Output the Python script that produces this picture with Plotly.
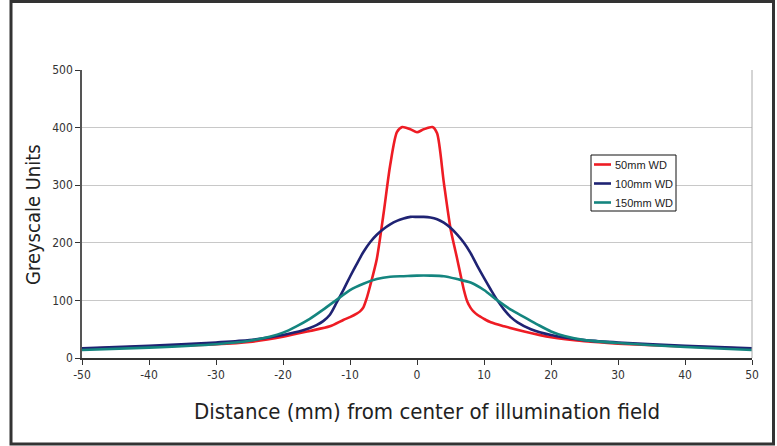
import plotly.graph_objects as go

# ---- data ----
# 50mm working distance
x_50mm = [-50, -40, -30, -25, -20, -16, -13, -11, -10, -9, -8.5, -8, -7.5, -7, -6, -5, -4, -3, -2.2,
          -1, 0, 1, 2.3, 3, 4, 5, 6, 7, 7.5, 8, 8.5, 9, 10, 11, 13, 16, 20, 25, 30, 40, 50]
wd_50mm = [16, 20, 24, 28, 37, 47, 55, 66, 71, 77, 81, 88, 104, 125, 172, 250, 335, 392, 401,
           397, 392, 397, 401, 390, 305, 225, 172, 118, 98, 87, 80, 75, 68, 62, 55, 46, 36, 29, 25, 20, 16]

# 100mm working distance
x_100mm = [-50, -40, -30, -25, -20, -17, -16, -15, -14, -13, -12, -11, -10, -9, -8, -7, -6, -5, -4,
           -3, -2, -1, 0, 1, 2, 3, 4, 5, 6, 7, 8, 9, 10, 11, 12, 13, 14, 15, 17, 20, 25, 30, 40, 50]
wd_100mm = [17, 21, 27, 31, 40, 48, 52, 57, 64, 75, 96, 118, 141, 163, 184, 201, 214, 224, 232,
            238, 242, 245, 245, 245, 244, 241, 235, 226, 214, 200, 182, 160, 139, 119, 100, 84, 71, 62, 50,
            40, 31, 27, 21, 17]

# 150mm working distance
x_150mm = [-50, -40, -30, -25, -22, -20, -18, -16, -14, -12, -10, -8, -6, -4, -2, 0, 2, 4, 6, 8,
           10, 12, 14, 16, 18, 20, 22, 25, 30, 40, 50]
wd_150mm = [14, 18, 24, 30, 37, 44, 55, 68, 84, 101, 118, 129, 137, 141, 142, 143, 143, 142, 137, 131,
            118, 100, 84, 71, 58, 46, 38, 31, 26, 19, 14]

series_names = ["50mm WD", "100mm WD", "150mm WD"]
series_colors = ["#ee1c24", "#1f2373", "#14857f"]

x_ticks = [-50, -40, -30, -20, -10, 0, 10, 20, 30, 40, 50]
y_ticks = [0, 100, 200, 300, 400, 500]

COND = "Liberation Sans Narrow, DejaVu Sans Condensed, Arial Narrow, sans-serif"

# pixel helpers for placing non-data decorations (frame, legend box)
PL, PR, PT, PB = 82, 752, 70, 358
def px(x):
    return (x - PL) / (PR - PL)
def py(y):
    return (PB - y) / (PB - PT)

fig = go.Figure()
for name, xs, ys, col in zip(series_names, [x_50mm, x_100mm, x_150mm],
                             [wd_50mm, wd_100mm, wd_150mm], series_colors):
    fig.add_trace(go.Scatter(
        x=xs, y=ys, name=name, mode="lines", showlegend=False,
        line=dict(color=col, width=2.6, shape="spline", smoothing=0.7),
    ))

# legend (drawn as shapes + text to match the compact original)
legend_rows = [164.5, 183.5, 202.5]
shapes = [
    dict(type="line", xref="paper", yref="paper", x0=1, x1=1, y0=0, y1=1,
         line=dict(color="#aaa", width=1)),
    dict(type="rect", xref="paper", yref="paper",
         x0=px(11), x1=px(773.5), y0=py(444), y1=py(1.5),
         line=dict(color="#333", width=3), fillcolor="rgba(0,0,0,0)", layer="above"),
    dict(type="rect", xref="paper", yref="paper",
         x0=px(591), x1=px(676), y0=py(211), y1=py(155),
         line=dict(color="#111", width=1), fillcolor="white", layer="above"),
]
annotations = [
    dict(text="Greyscale Units", xref="paper", yref="paper",
         x=px(33), y=py(214), textangle=-90, showarrow=False,
         xanchor="center", yanchor="middle",
         font=dict(family=COND, size=20, color="#222")),
    dict(text="Distance (mm) from center of illumination field", xref="paper", yref="paper",
         x=px(427), y=py(411), showarrow=False, xanchor="center", yanchor="middle",
         font=dict(family=COND, size=22, color="#222")),
]
for name, col, ry in zip(series_names, series_colors, legend_rows):
    shapes.append(dict(type="line", xref="paper", yref="paper",
                       x0=px(594), x1=px(611), y0=py(ry), y1=py(ry),
                       line=dict(color=col, width=2.6), layer="above"))
    annotations.append(dict(text=name, xref="paper", yref="paper",
                            x=px(613), y=py(ry), xanchor="left", yanchor="middle",
                            showarrow=False,
                            font=dict(family="Liberation Sans, Arial, sans-serif", size=11, color="#222")))

fig.update_layout(
    width=777, height=446,
    margin=dict(l=PL, r=777 - PR, t=PT, b=446 - PB),
    paper_bgcolor="white", plot_bgcolor="white",
    showlegend=False,
    xaxis=dict(
        range=[-50, 50], tickvals=x_ticks, ticktext=[str(v) for v in x_ticks],
        showgrid=False, zeroline=False,
        showline=True, linecolor="#333", linewidth=1.5,
        ticks="outside", ticklen=5, tickcolor="#333", tickwidth=1,
        tickfont=dict(family=COND, size=12, color="#333"),
    ),
    yaxis=dict(
        range=[0, 500], tickvals=y_ticks,
        showgrid=True, gridcolor="#c8c8c8", gridwidth=1, zeroline=False,
        showline=True, linecolor="#555", linewidth=1.5,
        ticks="outside", ticklen=5, tickcolor="#333", tickwidth=1,
        tickfont=dict(family=COND, size=12, color="#333"),
    ),
    annotations=annotations,
    shapes=shapes,
)

fig.write_html("out.html", config={"displayModeBar": False})

# remove the default page margin so the figure sits at the window origin
with open("out.html", "r", encoding="utf-8") as f:
    html = f.read()
html = html.replace("<head>", "<head><style>html,body{margin:0;padding:0;overflow:hidden;}</style>", 1)
with open("out.html", "w", encoding="utf-8") as f:
    f.write(html)
